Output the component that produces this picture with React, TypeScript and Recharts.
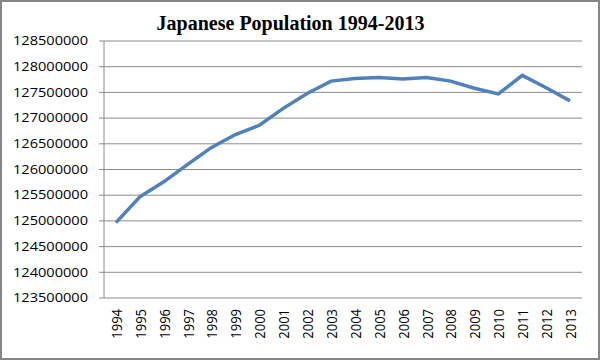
import React from 'react';
import { LineChart, Line, XAxis, YAxis, CartesianGrid } from 'recharts';

const years = ['1994', '1995', '1996', '1997', '1998', '1999', '2000', '2001', '2002', '2003', '2004', '2005', '2006', '2007', '2008', '2009', '2010', '2011', '2012', '2013'];
const population = [124967000, 125470000, 125760000, 126100000, 126430000, 126680000, 126860000, 127190000, 127480000, 127720000, 127770000, 127790000, 127760000, 127790000, 127720000, 127580000, 127470000, 127830000, 127590000, 127335000];
const yTicks = [123500000, 124000000, 124500000, 125000000, 125500000, 126000000, 126500000, 127000000, 127500000, 128000000, 128500000];
const title = 'Japanese Population 1994-2013';

const rows = years.map((year, i) => ({ year, pos: i + 0.5, pop: population[i] }));
const edgeTicks = Array.from({ length: years.length + 1 }, (_, i) => i);

const YTick = (props: any) => {
  const { x, y, payload } = props;
  return (
    <text x={x} y={y} dy="0.35em" textAnchor="end" fontFamily="Open Sans" fontSize={12} fill="#000" textLength={75} lengthAdjust="spacingAndGlyphs">
      {String(payload.value)}
    </text>
  );
};

const XTick = (props: any) => {
  const { x, y, payload } = props;
  return (
    <g transform={`translate(${x},${y})`}>
      <text transform="rotate(-90) scale(1,1.15)" textAnchor="end" dominantBaseline="central" fontFamily="Open Sans" fontSize={13} fill="#000">
        {payload.value}
      </text>
    </g>
  );
};

export default function App() {
  return (
    <div style={{ position: 'absolute', left: 0, top: 0, width: 600, height: 360, background: '#fff' }}>
      <div style={{ position: 'absolute', left: 0, top: 13, width: 581, textAlign: 'center', fontFamily: '"Liberation Serif", serif', fontWeight: 'bold', fontSize: 20, lineHeight: '20px', color: '#000' }}>
        {title}
      </div>
      <LineChart width={600} height={360} data={rows} margin={{ top: 41, right: 18, bottom: 0, left: 0 }}>
        <CartesianGrid vertical={false} stroke="#8c8c8c" strokeWidth={1} />
        <XAxis type="number" dataKey="pos" domain={[0, years.length]} ticks={edgeTicks} tick={false} tickSize={5} height={0} stroke="#8c8c8c" allowDataOverflow />
        <XAxis xAxisId="cat" type="category" scale="band" dataKey="year" axisLine={false} tickLine={false} tickSize={0} tickMargin={11} height={62} interval={0} tick={<XTick />} />
        <YAxis domain={[123500000, 128500000]} ticks={yTicks} width={104} tickSize={5} tickMargin={11} stroke="#8c8c8c" tick={<YTick />} interval={0} />
        <Line type="linear" dataKey="pop" stroke="#4f81bd" strokeWidth={3.5} dot={false} isAnimationActive={false} />
      </LineChart>
      <div style={{ position: 'absolute', left: 0, top: 0, width: 600, height: 360, boxSizing: 'border-box', border: '2px solid #868686', pointerEvents: 'none' }} />
    </div>
  );
}
